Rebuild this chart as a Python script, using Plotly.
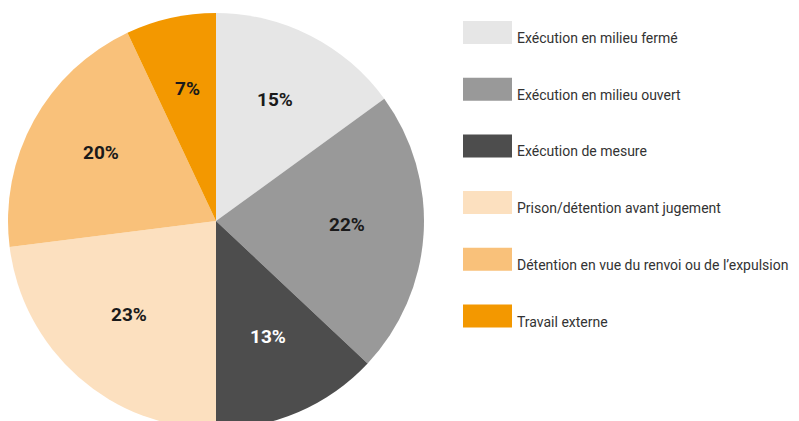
import math
import plotly.graph_objects as go

labels = ["Exécution en milieu fermé", "Exécution en milieu ouvert", "Exécution de mesure",
          "Prison/détention avant jugement", "Détention en vue du renvoi ou de l\u2019expulsion", "Travail externe"]
values = [15, 22, 13, 23, 20, 7]
colors = ["#e6e6e6", "#999999", "#4d4d4d", "#fce0bf", "#f9c17a", "#f39800"]
text_colors = ["#1a1a1a", "#1a1a1a", "#ffffff", "#1a1a1a", "#1a1a1a", "#1a1a1a"]

# page body has an 8px margin, the figure is a bit taller than the window so the pie bottom gets cropped like the original
W, H = 799, 430
pie_x = [0, 416]      # px
pie_y = [4, 422]      # px from top

fig = go.Figure(go.Pie(
    labels=labels,
    values=values,
    marker=dict(colors=colors, line=dict(width=0)),
    sort=False,
    direction="clockwise",
    rotation=0,
    textinfo="none",
    showlegend=False,
    hoverinfo="label+percent",
    domain=dict(x=[pie_x[0] / W, pie_x[1] / W], y=[1 - pie_y[1] / H, 1 - pie_y[0] / H]),
))

# percentage labels placed along the middle of each slice, a bit past half the radius
cx = (pie_x[0] + pie_x[1]) / 2
cy = (pie_y[0] + pie_y[1]) / 2
R = min(pie_x[1] - pie_x[0], pie_y[1] - pie_y[0]) / 2
total = sum(values)
cum = 0
for v, tc in zip(values, text_colors):
    mid = (cum + v / 2) / total * 2 * math.pi
    cum += v
    r = 0.63 * R
    x = cx + r * math.sin(mid)
    y = cy - r * math.cos(mid) - 5   # nudge up so the digits sit centred
    fig.add_annotation(x=x / W, y=1 - y / H, xref="paper", yref="paper", text=f"{v}%",
                       showarrow=False, xanchor="center", yanchor="middle",
                       font=dict(family="Roboto, Arial, sans-serif", size=19, weight=700, color=tc))

# legend drawn by hand: big colour boxes with the label to the right
for i, (lab, col) in enumerate(zip(labels, colors)):
    top = 13 + 56.7 * i
    bot = top + 23
    fig.add_shape(type="rect", xref="paper", yref="paper",
                  x0=455 / W, x1=504 / W, y0=1 - bot / H, y1=1 - top / H,
                  fillcolor=col, line=dict(width=0))
    fig.add_annotation(x=507 / W, y=1 - (top + 17) / H, xref="paper", yref="paper",
                       text=lab, showarrow=False, xanchor="left", yanchor="middle",
                       font=dict(family="Roboto, Arial, sans-serif", size=14, color="#333333"))

fig.update_layout(
    width=W, height=H,
    margin=dict(l=0, r=0, t=0, b=0),
    paper_bgcolor="white",
    plot_bgcolor="white",
)

fig.write_html("out.html")
